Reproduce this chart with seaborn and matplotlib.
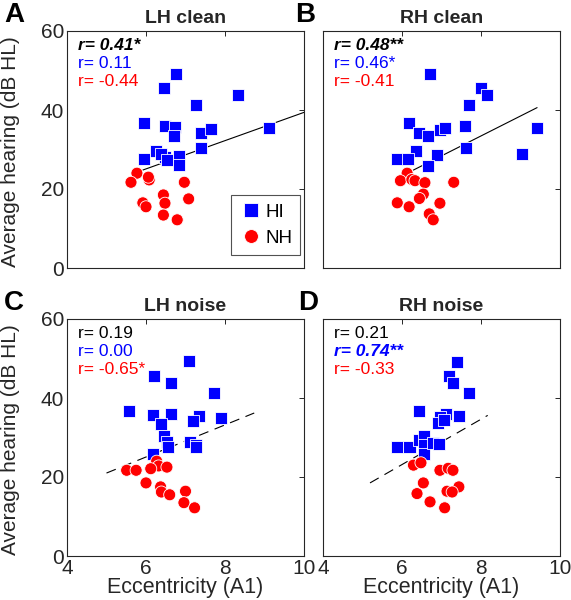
import numpy as np
import pandas as pd
import matplotlib
matplotlib.use("Agg")
import matplotlib.pyplot as plt
import seaborn as sns

# ---------------- data ----------------
panels = ["A", "B", "C", "D"]
titles = ["LH clean", "RH clean", "LH noise", "RH noise"]

# Panel A: LH clean
A_hi_x = [6.75, 6.46, 8.34, 7.26, 5.96, 6.49, 6.74, 6.71, 7.40, 7.65, 9.11, 7.40, 5.95, 6.25, 6.48, 6.39, 6.52, 6.84, 6.84]
A_hi_y = [49.1, 45.5, 43.8, 41.2, 36.6, 35.9, 35.6, 33.4, 34.1, 35.1, 35.5, 30.5, 27.5, 29.6, 28.2, 28.9, 27.4, 28.4, 26.0]
A_nh_x = [5.77, 5.62, 6.08, 6.06, 6.97, 6.44, 7.08, 5.92, 6.00, 6.48, 6.44, 6.79]
A_nh_y = [24.0, 21.7, 22.3, 23.0, 21.7, 18.5, 17.5, 16.5, 15.5, 16.4, 13.4, 12.2]

# Panel B: RH clean
B_hi_x = [6.71, 8.00, 8.14, 7.69, 6.18, 6.43, 6.67, 6.96, 7.08, 7.60, 9.42, 6.36, 5.88, 6.15, 6.88, 6.67, 7.63, 9.04]
B_hi_y = [49.1, 45.5, 43.8, 41.3, 36.6, 34.3, 33.5, 34.9, 35.5, 35.9, 35.5, 29.7, 27.6, 27.6, 28.6, 25.9, 30.5, 28.9]
B_nh_x = [6.13, 5.96, 6.25, 6.33, 6.58, 7.31, 6.54, 6.44, 5.88, 6.18, 6.96, 6.69, 6.79]
B_nh_y = [24.0, 22.1, 22.4, 22.1, 21.6, 21.7, 18.7, 17.6, 16.5, 15.5, 16.4, 13.7, 12.2]

# Panel C: LH noise
C_hi_x = [7.08, 6.21, 6.64, 7.71, 5.58, 6.18, 6.63, 7.34, 7.20, 7.90, 6.38, 6.46, 6.52, 6.56, 7.12, 7.27, 7.26, 6.18]
C_hi_y = [49.3, 45.5, 43.8, 41.3, 36.7, 35.6, 35.9, 35.4, 34.3, 35.0, 33.3, 30.5, 28.9, 27.6, 28.9, 28.2, 27.6, 25.9]
C_nh_x = [6.27, 6.32, 6.53, 6.12, 5.51, 5.75, 6.00, 6.37, 6.39, 6.60, 7.00, 6.96, 7.23]
C_nh_y = [24.0, 22.8, 22.5, 22.1, 21.7, 21.7, 18.5, 17.5, 16.2, 15.5, 16.4, 13.5, 12.2]

# Panel D: RH noise
D_hi_x = [7.39, 7.19, 7.28, 7.69, 6.42, 7.11, 6.96, 7.44, 6.92, 7.06, 5.88, 6.19, 6.42, 6.56, 6.56, 6.56, 6.79, 6.94]
D_hi_y = [49.1, 45.5, 43.8, 41.3, 36.7, 35.9, 35.2, 35.4, 33.7, 34.5, 27.6, 27.6, 29.4, 30.5, 28.0, 25.9, 28.6, 28.3]
D_nh_x = [6.29, 6.48, 6.96, 7.17, 7.29, 6.54, 6.38, 7.14, 7.44, 6.71, 7.08, 7.27]
D_nh_y = [23.0, 23.6, 21.7, 22.2, 21.7, 18.5, 15.8, 16.4, 17.5, 13.7, 12.2, 16.2]

# Fitted regression lines (end points)
fit_x = {"A": [5.92, 10.0], "B": [6.29, 9.42], "C": [5.00, 8.74], "D": [5.19, 8.17]}
fit_y = {"A": [24.8, 39.4], "B": [24.8, 40.6], "C": [21.0, 36.2], "D": [18.5, 35.6]}
fit_style = {"A": "solid", "B": "solid", "C": "dashed", "D": "dashed"}

# correlation labels: (all, HI, NH) and which ones are significant (bold italic)
r_text = {
    "A": ["r= 0.41*", "r= 0.11", "r= -0.44"],
    "B": ["r= 0.48**", "r= 0.46*", "r= -0.41"],
    "C": ["r= 0.19", "r= 0.00", "r= -0.65*"],
    "D": ["r= 0.21", "r= 0.74**", "r= -0.33"],
}
r_emph = {
    "A": [True, False, False],
    "B": [True, False, False],
    "C": [False, False, False],
    "D": [False, True, False],
}

groups = ["HI", "NH"]
x_ticks = [4, 6, 8, 10]
y_ticks = [0, 20, 40, 60]
xlabel = "Eccentricity (A1)"
ylabel = "Average hearing (dB HL)"

raw = {
    "A": (A_hi_x, A_hi_y, A_nh_x, A_nh_y),
    "B": (B_hi_x, B_hi_y, B_nh_x, B_nh_y),
    "C": (C_hi_x, C_hi_y, C_nh_x, C_nh_y),
    "D": (D_hi_x, D_hi_y, D_nh_x, D_nh_y),
}

# ---------------- styling ----------------
sns.set_theme(style="white")
plt.rcParams["font.family"] = ["Liberation Sans", "DejaVu Sans"]
axcol = "#262626"
plt.rcParams["axes.edgecolor"] = axcol
plt.rcParams["xtick.color"] = axcol
plt.rcParams["ytick.color"] = axcol
plt.rcParams["text.color"] = axcol

palette = {"HI": "#0000ff", "NH": "#ff0000"}
markers = {"HI": "s", "NH": "o"}
text_colors = ["black", "#0000ff", "#ff0000"]

W, H = 571, 600
fig = plt.figure(figsize=(W / 100, H / 100), dpi=100)

boxes = {
    "A": (67, 31, 304, 268),
    "B": (323, 31, 560, 268),
    "C": (67, 319, 304, 556),
    "D": (323, 319, 560, 556),
}
letter_pos = {"A": (4, 2), "B": (295, 2), "C": (4, 290), "D": (298, 290)}

for p, title in zip(panels, titles):
    l, t, r, b = boxes[p]
    ax = fig.add_axes([l / W, 1 - b / H, (r - l) / W, (b - t) / H])
    hx, hy, nx, ny = raw[p]
    df = pd.DataFrame({
        "x": list(hx) + list(nx),
        "y": list(hy) + list(ny),
        "group": ["HI"] * len(hx) + ["NH"] * len(nx),
    })
    # regression line underneath markers
    ls = "-" if fit_style[p] == "solid" else (0, (9, 6))
    ax.plot(fit_x[p], fit_y[p], color="black", lw=0.8, linestyle=ls, zorder=1)
    sns.scatterplot(data=df, x="x", y="y", hue="group", style="group",
                    hue_order=groups, style_order=groups,
                    palette=palette, markers=markers, s=75,
                    edgecolor="white", linewidth=0.6, ax=ax,
                    legend=(p == "A"), zorder=2)
    ax.set_xlim(x_ticks[0], x_ticks[-1])
    ax.set_ylim(y_ticks[0], y_ticks[-1])
    ax.set_xticks(x_ticks)
    ax.set_yticks(y_ticks)
    ax.tick_params(direction="in", length=3.5, width=0.7, top=True, right=True,
                   labelsize=15, pad=2, colors=axcol)
    for s in ax.spines.values():
        s.set_linewidth(0.8)
        s.set_color(axcol)
    ax.set_xlabel("")
    ax.set_ylabel("")
    if p in ("A", "B"):
        ax.tick_params(labelbottom=False)
    else:
        ax.set_xlabel(xlabel, fontsize=15.5, color=axcol)
        ax.xaxis.set_label_coords(0.5, -0.09)
    if p in ("B", "D"):
        ax.tick_params(labelleft=False)
    else:
        ax.set_ylabel(ylabel, fontsize=15, color=axcol)
        ax.yaxis.set_label_coords(-0.2, 0.49)
    ax.set_title(title, fontsize=14, fontweight="bold", color=axcol, pad=6)

    for i, (txt, emph) in enumerate(zip(r_text[p], r_emph[p])):
        ax.text(0.045, 0.94 - i * 0.076, txt, transform=ax.transAxes,
                color=text_colors[i], fontsize=12.5, va="center", ha="left",
                fontweight="bold" if emph else "normal",
                fontstyle="italic" if emph else "normal")

    if p == "A":
        leg = ax.legend(loc="lower right", bbox_to_anchor=(0.985, 0.055),
                        borderaxespad=0.0, fontsize=13.5, frameon=True,
                        fancybox=False, edgecolor="#262626", borderpad=0.45,
                        handletextpad=0.15, handlelength=1.2, labelspacing=0.45,
                        markerscale=1.15)
        leg.get_frame().set_linewidth(0.8)
        for txt in leg.get_texts():
            txt.set_color("black")

    lx, ly = letter_pos[p]
    fig.text(lx / W, 1 - ly / H, p, fontsize=20, fontweight="bold",
             color="black", ha="left", va="top")

fig.savefig("out.png", dpi=100)
